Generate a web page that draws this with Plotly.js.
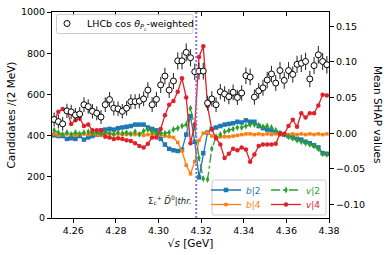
<!DOCTYPE html>
<html>
<head>
<meta charset="utf-8">
<script src="https://cdn.plot.ly/plotly-3.0.1.min.js"></script>
<style>html,body{margin:0;padding:0;background:#fff}#chart{width:390px;height:255px}</style>
</head>
<body>
<div id="chart"></div>
<script>
// bin centres sqrt(s) [GeV], 2 MeV bins
const sqrtS = [4.251,4.253,4.255,4.257,4.259,4.261,4.263,4.265,4.267,4.269,
  4.271,4.273,4.275,4.277,4.279,4.281,4.283,4.285,4.287,4.289,
  4.291,4.293,4.295,4.297,4.299,4.301,4.303,4.305,4.307,4.309,
  4.311,4.313,4.315,4.317,4.319,4.321,4.323,4.325,4.327,4.329,
  4.331,4.333,4.335,4.337,4.339,4.341,4.343,4.345,4.347,4.349,
  4.351,4.353,4.355,4.357,4.359,4.361,4.363,4.365,4.367,4.369,
  4.371,4.373,4.375,4.377,4.379];

// LHCb cos(theta_Pc)-weighted candidates per 2 MeV
const lhcb = [478,468,457,520,515,500,505,550,541,518,
  509,490,550,575,533,530,518,533,565,565,
  567,578,621,550,576,646,689,621,665,763,
  763,804,778,710,713,713,558,578,550,613,
  602,589,610,585,607,691,684,587,617,632,
  670,699,655,716,668,716,697,746,751,760,
  675,740,792,760,744];
const lhcbErr = [34,34,33,35,35,34,34,36,35,35,
  34,34,36,37,35,35,35,35,36,36,
  36,36,38,36,37,39,40,38,39,42,
  42,43,42,40,41,41,36,37,36,38,
  38,37,38,37,38,40,40,37,38,39,
  40,40,39,41,40,41,40,42,42,42,
  40,41,43,42,42];

// Mean SHAP values
const b2 = [-0.003,-0.004,-0.004,-0.008,-0.007,-0.008,-0.004,-0.009,-0.006,-0.004,
  -0.002,0.004,0.005,0.006,0.005,0.007,0.008,0.009,0.010,0.012,
  0.012,0.012,0.008,0.006,0.004,-0.008,-0.016,-0.022,-0.024,-0.025,
  -0.023,-0.002,0.024,-0.012,-0.062,-0.028,0.001,0.006,0.008,0.010,
  0.012,0.013,0.014,0.016,0.015,0.018,0.016,0.016,0.010,0.007,
  0.005,0.004,0.001,0.000,-0.002,-0.004,-0.006,-0.008,-0.009,-0.012,
  -0.014,-0.017,-0.020,-0.028,-0.029];
const b4 = [-0.001,-0.003,-0.002,-0.001,-0.002,-0.003,-0.002,-0.001,-0.002,-0.001,
  -0.002,-0.003,-0.002,-0.001,-0.002,-0.001,-0.002,-0.002,-0.001,-0.002,
  -0.001,-0.003,-0.002,-0.001,-0.003,-0.002,-0.004,-0.005,-0.006,-0.013,
  -0.025,-0.045,-0.057,-0.040,-0.010,0.000,0.001,-0.004,-0.006,-0.005,
  -0.005,-0.005,-0.004,-0.003,-0.002,-0.001,-0.001,-0.002,-0.001,-0.002,
  -0.001,-0.002,-0.001,-0.002,-0.001,-0.002,-0.001,-0.002,-0.001,-0.002,
  -0.001,-0.002,-0.001,-0.002,-0.001];
const v2 = [0.004,0.001,-0.002,0.001,-0.002,0.001,-0.001,0.001,0.002,0.000,
  0.001,-0.001,0.001,0.000,-0.001,0.001,0.000,0.001,-0.001,0.002,
  -0.002,0.003,0.005,0.002,0.000,0.000,0.000,0.001,0.005,0.007,
  0.010,0.012,0.035,0.008,-0.035,-0.064,-0.065,-0.022,-0.005,-0.002,
  0.002,0.004,0.006,0.008,0.008,0.010,0.012,0.012,0.011,0.009,
  0.010,0.008,0.004,0.000,-0.002,-0.005,-0.007,-0.010,-0.012,-0.014,
  -0.016,-0.018,-0.022,-0.029,-0.030];
const v4 = [0.018,0.030,0.034,0.032,0.013,0.018,0.021,0.010,0.012,0.004,
  0.004,0.004,-0.005,-0.006,-0.008,-0.007,-0.008,-0.010,-0.011,-0.014,
  -0.018,-0.020,-0.015,-0.006,-0.006,0.006,0.025,0.040,0.045,0.058,
  0.077,0.050,-0.014,0.012,0.107,0.122,0.038,0.005,-0.007,-0.016,
  -0.035,-0.029,-0.022,-0.024,-0.020,-0.023,-0.040,-0.030,-0.018,-0.016,
  -0.016,-0.016,-0.015,-0.001,-0.001,0.010,0.019,0.009,0.028,0.022,
  0.028,0.028,0.039,0.054,0.053];

const threshold = 4.3177; // Sigma_c+ D0bar threshold [GeV]
const xTicks = [4.26,4.28,4.30,4.32,4.34,4.36,4.38];
const yLeftTicks = [0,200,400,600,800,1000];
const yRightTicks = [-0.10,-0.05,0.00,0.05,0.10,0.15];

const C = {blue:'#1f77b4', orange:'#ff7f0e', green:'#2ca02c', red:'#e0202a'};
const FONT = 'DejaVu Sans, sans-serif';

const traces = [
  {x:sqrtS, y:b2, name:'<i>b</i>|2', type:'scatter', mode:'lines+markers', xaxis:'x', yaxis:'y',
   line:{color:C.blue, width:1.3}, marker:{symbol:'square', size:4.5, color:C.blue}, legend:'legend2'},
  {x:sqrtS, y:b4, name:'<i>b</i>|4', type:'scatter', mode:'lines+markers', xaxis:'x', yaxis:'y',
   line:{color:C.orange, width:1.3}, marker:{symbol:'square', size:3.5, color:C.orange}, legend:'legend4'},
  {x:sqrtS, y:v2, name:'<i>v</i>|2', type:'scatter', mode:'lines+markers', xaxis:'x', yaxis:'y',
   line:{color:C.green, width:1.3, dash:'dashdot'}, marker:{symbol:'diamond-tall', size:5, color:C.green}, legend:'legend3'},
  {x:sqrtS, y:v4, name:'<i>v</i>|4', type:'scatter', mode:'lines+markers', xaxis:'x', yaxis:'y',
   line:{color:C.red, width:1.3}, marker:{symbol:'circle', size:4.5, color:C.red}, legend:'legend5'},
  {x:sqrtS, y:lhcb, name:'LHCb cos <i>θ</i><sub><i>P</i><sub>c</sub></sub>-weighted', type:'scatter', mode:'markers',
   xaxis:'x2', yaxis:'y2',
   error_y:{type:'data', array:lhcbErr, visible:true, color:'#333', thickness:1.1, width:0},
   marker:{symbol:'circle', size:6, color:'#fff', line:{color:'#000', width:1}}, legend:'legend'}
];

function px2x(px){ return (px-52)/277; }
function py2y(py){ return 1-(py-12)/206; }
function roundRect(x0,y0,x1,y1){
  const X0=px2x(x0), X1=px2x(x1), Y0=py2y(y1), Y1=py2y(y0);
  const rx=2/277, ry=2/206;
  return `M${X0+rx},${Y0} L${X1-rx},${Y0} Q${X1},${Y0} ${X1},${Y0+ry} L${X1},${Y1-ry} Q${X1},${Y1} ${X1-rx},${Y1} L${X0+rx},${Y1} Q${X0},${Y1} ${X0},${Y1-ry} L${X0},${Y0+ry} Q${X0},${Y0} ${X0+rx},${Y0} Z`;
}
function leg(pxX, pxY, color){
  return {x:px2x(pxX), y:py2y(pxY), xanchor:'left', yanchor:'middle', xref:'paper', yref:'paper',
    bgcolor:'rgba(0,0,0,0)', borderwidth:0, font:{family:FONT, size:9, color:color}};
}

const axCommon = {showline:true, linecolor:'#000', linewidth:1, ticks:'outside', ticklen:4, tickwidth:1,
  tickcolor:'#000', showgrid:false, zeroline:false, tickfont:{family:FONT, size:9.5, color:'#000'}};

const layout = {
  width:390, height:255,
  margin:{l:52, r:61, t:12, b:37, pad:0, autoexpand:false},
  paper_bgcolor:'#fff', plot_bgcolor:'rgba(0,0,0,0)',
  font:{family:FONT, color:'#000'},
  showlegend:true,
  xaxis:Object.assign({}, axCommon, {range:[4.25,4.38], tickvals:xTicks, tickformat:'.2f', side:'bottom',
    title:{text:'√<i>s</i> [GeV]', font:{family:FONT, size:10.5}, standoff:4}}),
  xaxis2:Object.assign({}, axCommon, {range:[4.25,4.38], tickvals:xTicks, overlaying:'x', side:'top',
    ticks:'inside', showticklabels:false, anchor:'y'}),
  yaxis:Object.assign({}, axCommon, {range:[-0.119,0.17], tickvals:yRightTicks, tickformat:'.2f', side:'right', anchor:'x'}),
  yaxis2:Object.assign({}, axCommon, {range:[0,1000], tickvals:yLeftTicks, overlaying:'y', side:'left', anchor:'x',
    title:{text:'Candidates /(2 MeV)', font:{family:FONT, size:10.5}, standoff:3}}),
  legend:Object.assign(leg(47, 23.5, '#000'), {font:{family:FONT, size:9.5, color:'#000'}}),
  legend2:leg(206, 190, C.blue),
  legend4:leg(206, 204.5, C.orange),
  legend3:leg(266, 190, C.green),
  legend5:leg(266, 204.5, C.red),
  shapes:[
    {type:'line', xref:'x', yref:'paper', x0:threshold, x1:threshold, y0:0, y1:1,
     line:{color:'#9370db', width:2, dash:'2px,2px'}, layer:'above'},
    {type:'path', xref:'paper', yref:'paper', path:roundRect(56.5,14.5,193,33.5),
     fillcolor:'rgba(255,255,255,0.8)', line:{color:'#cccccc', width:1}, layer:'above'},
    {type:'path', xref:'paper', yref:'paper', path:roundRect(212,180,326,215),
     fillcolor:'rgba(255,255,255,0.8)', line:{color:'#cccccc', width:1}, layer:'above'}
  ],
  annotations:[
    {xref:'x', yref:'paper', x:threshold, y:py2y(200), xanchor:'right', yanchor:'middle', xshift:-2,
     text:'Σ<sub>c</sub><sup>+</sup> <i>D̄</i><sup>0</sup>|<i>thr.</i>', showarrow:false,
     font:{family:FONT, size:8.5, color:'#222'}},
    {xref:'paper', yref:'paper', x:px2x(378), y:0.5, xanchor:'center', yanchor:'middle', textangle:90,
     text:'Mean SHAP values', showarrow:false, font:{family:FONT, size:10.5, color:'#000'}}
  ]
};

Plotly.newPlot('chart', traces, layout, {displayModeBar:false, staticPlot:true});
</script>
</body>
</html>
